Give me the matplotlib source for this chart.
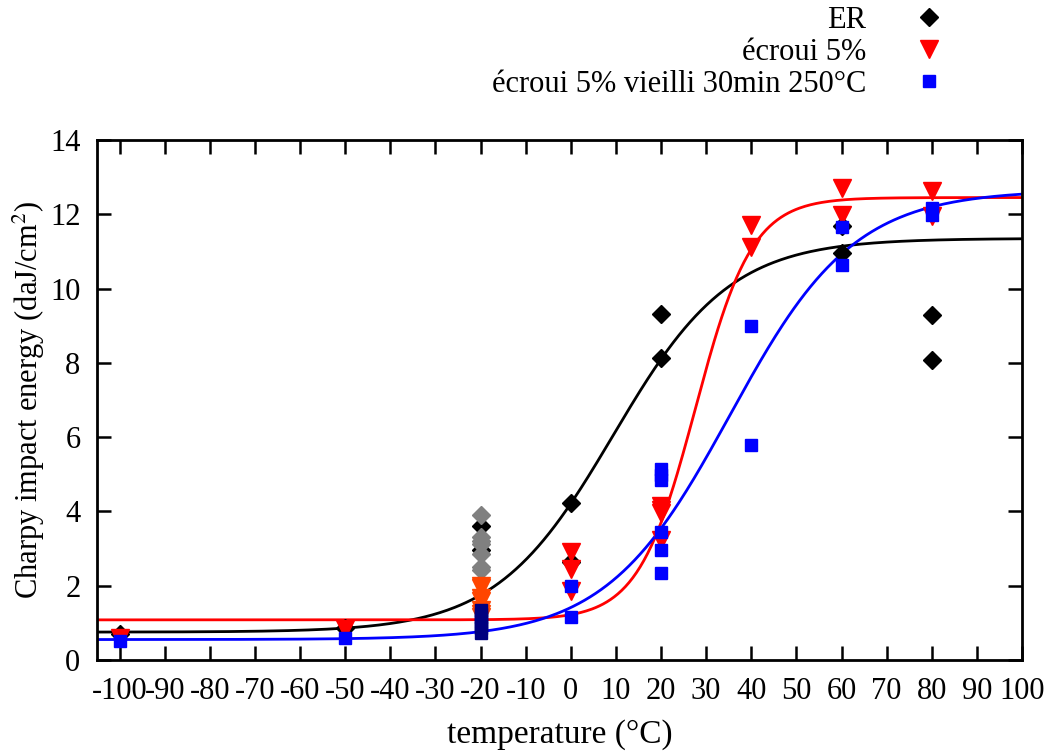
import numpy as np
import matplotlib
matplotlib.use("Agg")
import matplotlib.pyplot as plt

plt.rcParams['font.family'] = ['Liberation Serif', 'DejaVu Serif']
plt.rcParams['mathtext.fontset'] = 'stix'
plt.rcParams['axes.unicode_minus'] = False

# ER (black diamonds)
er_T = [-100, -50, -20, -20, 0, 0, 20, 20, 60, 60, 80, 80]
er_E = [0.70, 0.86, 3.62, 2.95, 4.22, 2.65, 9.32, 8.12, 11.68, 10.96, 9.30, 8.08]
# ER, extra points at -20 (grey)
er20_T = [-20, -20, -20, -20, -20, -20, -20]
er20_E = [3.90, 3.30, 3.20, 3.12, 2.85, 2.50, 2.42]

# écroui 5% (red triangles)
ec_T = [-100, -50, 0, 0, 0, 20, 20, 20, 20, 40, 40, 60, 60, 80, 80]
ec_E = [0.60, 0.84, 2.92, 2.45, 1.85, 4.15, 4.05, 3.95, 3.22, 11.70, 11.12, 12.72, 11.98, 12.62, 11.95]
ec20_T = [-20, -20, -20, -20, -20, -20, -20]
ec20_E = [2.00, 1.95, 1.68, 1.60, 1.35, 1.25, 1.15]

# écroui 5% vieilli 30min 250°C (blue squares)
ev_T = [-100, -50, 0, 0, 20, 20, 20, 20, 20, 20, 40, 40, 60, 60, 80, 80]
ev_E = [0.50, 0.58, 1.99, 1.16, 5.15, 4.98, 4.85, 3.45, 2.96, 2.34, 8.98, 5.80, 11.66, 10.64, 12.17, 11.98]
ev20_T = [-20, -20, -20, -20, -20, -20, -20]
ev20_E = [1.35, 1.25, 1.15, 1.05, 0.95, 0.85, 0.72]

# tanh fits: lower shelf, upper shelf, T0, C
fit_er = [0.75, 11.35, 9.4, 26.0]
fit_ec = [1.08, 12.45, 27.6, 12.6]
fit_ev = [0.55, 12.65, 35.3, 27.5]

xticks = list(range(-100, 101, 10))
xticklabels = [str(t) for t in xticks]
yticks = list(range(0, 15, 2))


def tanh_fit(T, p):
    lo, hi, T0, C = p
    return lo + (hi - lo) * (1 + np.tanh((T - T0) / C)) / 2


fig = plt.figure(figsize=(10.56, 7.51), dpi=100)
ax = fig.add_axes([0.0919, 0.1212, 0.8759, 0.6924])

# fitted curves
T = np.linspace(-105, 100, 500)
ax.plot(T, tanh_fit(T, fit_er), color='black', lw=2)
ax.plot(T, tanh_fit(T, fit_ec), color='red', lw=2)
ax.plot(T, tanh_fit(T, fit_ev), color='blue', lw=2)

# measured points
ax.plot(er_T, er_E, 'D', color='black', ms=9, ls='none', label='ER')
ax.plot(er20_T, er20_E, 'D', color='grey', ms=9, ls='none')
ax.plot(ec_T, ec_E, 'v', color='red', ms=13, ls='none', label='écroui 5%')
ax.plot(ec20_T, ec20_E, 'v', color='orangered', ms=13, ls='none')
ax.plot(ev_T, ev_E, 's', color='blue', ms=9, ls='none',
        label='écroui 5% vieilli 30min 250°C')
ax.plot(ev20_T, ev20_E, 's', color='navy', ms=9, ls='none')

ax.set_xlim(-105, 100)
ax.set_ylim(0, 14)
ax.set_xticks(xticks)
ax.set_xticklabels(xticklabels)
ax.set_yticks(yticks)
ax.tick_params(direction='in', length=10, width=1.8, labelsize=22,
               top=True, right=True, pad=12)
for s in ax.spines.values():
    s.set_linewidth(2)

ax.set_xlabel('temperature (°C)', fontsize=24, labelpad=10)
ax.set_ylabel('Charpy impact energy (daJ/cm$^2$)', fontsize=22, labelpad=2)

fig.legend(loc='upper right', bbox_to_anchor=(0.907, 0.992), frameon=False,
           markerfirst=False, fontsize=22, borderpad=0, borderaxespad=0,
           handletextpad=1.1, handlelength=1.9, labelspacing=0.1)

fig.savefig('out.png', dpi=100)
